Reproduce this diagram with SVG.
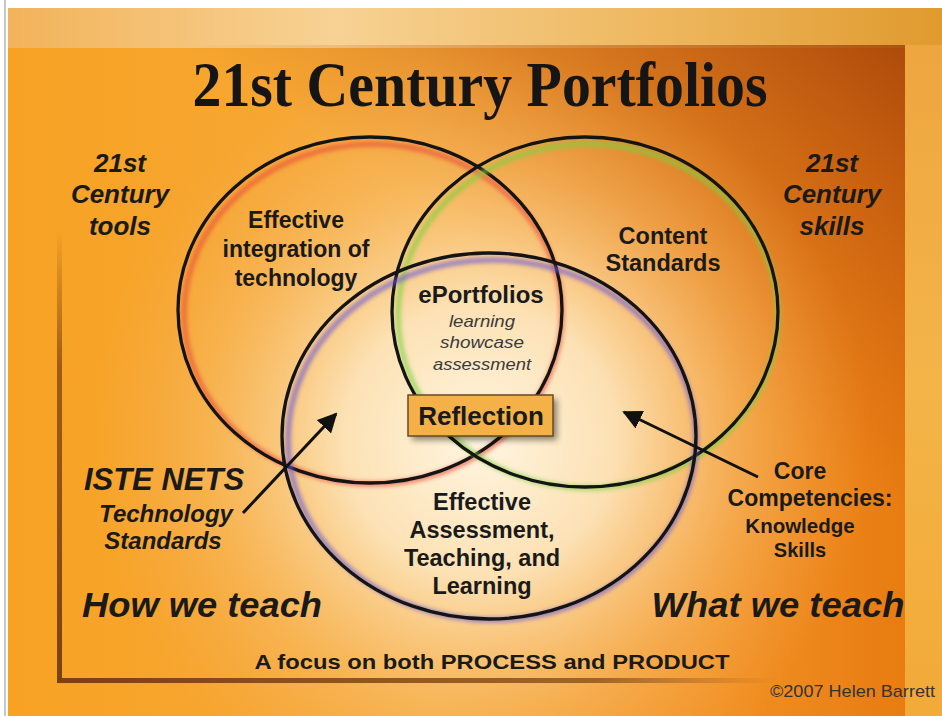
<svg xmlns="http://www.w3.org/2000/svg" width="942" height="716" viewBox="0 0 942 716">
<defs>
<linearGradient id="gMain" x1="0" y1="0" x2="1" y2="0">
<stop offset="0" stop-color="#f7a223"/>
<stop offset="0.45" stop-color="#f6a93a"/>
<stop offset="0.75" stop-color="#f29224"/>
<stop offset="1" stop-color="#e6780e"/>
</linearGradient>
<linearGradient id="gDark" x1="1" y1="0" x2="0.65" y2="0.4">
<stop offset="0" stop-color="#9a3a08" stop-opacity="0.75"/>
<stop offset="1" stop-color="#c05010" stop-opacity="0"/>
</linearGradient>
<radialGradient id="gGlow" cx="480" cy="440" r="390" gradientUnits="userSpaceOnUse">
<stop offset="0" stop-color="#fff6e2" stop-opacity="1"/>
<stop offset="0.35" stop-color="#fde8c2" stop-opacity="0.9"/>
<stop offset="0.7" stop-color="#f9c780" stop-opacity="0.4"/>
<stop offset="1" stop-color="#f7b060" stop-opacity="0"/>
</radialGradient>
<linearGradient id="gTop" x1="0" y1="0" x2="1" y2="0">
<stop offset="0" stop-color="#f2b35a"/>
<stop offset="0.35" stop-color="#f7d294"/>
<stop offset="0.7" stop-color="#eeb75e"/>
<stop offset="1" stop-color="#e09a2e"/>
</linearGradient>
<linearGradient id="gRight" x1="0" y1="0" x2="0" y2="1">
<stop offset="0" stop-color="#eea640"/>
<stop offset="0.5" stop-color="#f4b448"/>
<stop offset="1" stop-color="#f2aa38"/>
</linearGradient>
<linearGradient id="gFrameV" x1="0" y1="0" x2="0" y2="1">
<stop offset="0" stop-color="#8a4a10" stop-opacity="0"/>
<stop offset="0.3" stop-color="#8a4a10" stop-opacity="0.8"/>
<stop offset="1" stop-color="#7a4010" stop-opacity="1"/>
</linearGradient>
<linearGradient id="gFrameH" x1="0" y1="0" x2="1" y2="0">
<stop offset="0" stop-color="#7a4010" stop-opacity="1"/>
<stop offset="0.75" stop-color="#8a5020" stop-opacity="0.8"/>
<stop offset="1" stop-color="#8a5020" stop-opacity="0"/>
</linearGradient>
<filter id="blur" x="-10%" y="-10%" width="120%" height="120%"><feGaussianBlur stdDeviation="2"/></filter>
<filter id="shadow" x="-20%" y="-20%" width="140%" height="160%"><feGaussianBlur stdDeviation="3"/></filter>
<marker id="arrow" viewBox="0 0 10 10" refX="9" refY="5" markerWidth="6.5" markerHeight="6.5" markerUnits="strokeWidth" orient="auto">
<path d="M0,0 L10,5 L0,10 z" fill="#111"/>
</marker>
<style>
.t{font-family:"Liberation Sans",Arial,sans-serif;font-weight:bold;fill:#1a1a1a;text-anchor:middle}
.i{font-style:italic}
.n{font-weight:normal;fill:#3a3a3a}
.ring{fill:none;stroke:#141414;stroke-width:3.3}
.glow{fill:none;stroke-width:5;filter:url(#blur);opacity:0.7}
.conn{stroke:#111;stroke-width:3;fill:none}
</style>
</defs>

<!-- page background -->
<rect x="0" y="0" width="942" height="716" fill="#ffffff"/>
<rect x="4" y="0" width="2" height="716" fill="#c8c8c8"/>
<rect x="8" y="8" width="934" height="708" fill="url(#gMain)"/>
<rect x="8" y="8" width="934" height="40" fill="url(#gTop)"/>
<rect x="905" y="45" width="37" height="671" fill="url(#gRight)"/>
<rect x="8" y="45" width="897" height="671" fill="url(#gDark)"/>
<rect x="8" y="45" width="897" height="671" fill="url(#gGlow)"/>

<!-- frame lines -->
<rect x="57" y="230" width="5" height="452" fill="url(#gFrameV)"/>
<rect x="57" y="678" width="720" height="5" fill="url(#gFrameH)"/>

<!-- title -->
<text x="480" y="106" font-family="'Liberation Serif','Times New Roman',serif" font-weight="bold" font-size="64" fill="#151515" text-anchor="middle" textLength="575" lengthAdjust="spacingAndGlyphs">21st Century Portfolios</text>

<!-- circles -->
<g id="circle-tools">
<ellipse cx="373" cy="314" rx="189" ry="170" class="glow" stroke="#e8503a"/>
<ellipse cx="370" cy="310" rx="192" ry="173" class="ring"/>
</g>
<g id="circle-skills">
<ellipse cx="588" cy="316" rx="190" ry="172" class="glow" stroke="#7ed040"/>
<ellipse cx="585" cy="312" rx="193" ry="175" class="ring"/>
</g>
<g id="circle-teach">
<ellipse cx="492" cy="440" rx="204" ry="180" class="glow" stroke="#6a5ad8"/>
<ellipse cx="489" cy="436" rx="207" ry="183" class="ring"/>
</g>

<!-- labels -->
<g id="tools-label">
<text class="t i" font-size="26" x="120" y="172">21st</text>
<text class="t i" font-size="26" x="120" y="203">Century</text>
<text class="t i" font-size="26" x="120" y="235">tools</text>
</g>
<g id="skills-label">
<text class="t i" font-size="26" x="832" y="172">21st</text>
<text class="t i" font-size="26" x="832" y="203">Century</text>
<text class="t i" font-size="26" x="832" y="235">skills</text>
</g>
<g id="integration">
<text class="t" font-size="23" x="296" y="228">Effective</text>
<text class="t" font-size="23" x="296" y="257">integration of</text>
<text class="t" font-size="23" x="296" y="286">technology</text>
</g>
<g id="content">
<text class="t" font-size="23.5" x="663" y="244">Content</text>
<text class="t" font-size="23.5" x="663" y="271">Standards</text>
</g>
<g id="eportfolios">
<text class="t" font-size="24" x="481" y="303">ePortfolios</text>
<text class="t i n" font-size="17" x="482" y="327" textLength="66" lengthAdjust="spacingAndGlyphs">learning</text>
<text class="t i n" font-size="17" x="482" y="348" textLength="84" lengthAdjust="spacingAndGlyphs">showcase</text>
<text class="t i n" font-size="17" x="482" y="370" textLength="98" lengthAdjust="spacingAndGlyphs">assessment</text>
</g>
<g id="reflection">
<rect x="412" y="399" width="145" height="41" fill="#000" opacity="0.45" filter="url(#shadow)"/>
<rect x="408" y="395" width="145" height="41" fill="#f4b148" stroke="#6a4a20" stroke-width="1.5"/>
<text class="t" font-size="26" x="481" y="425">Reflection</text>
</g>
<g id="iste">
<text class="t i" font-size="31" x="164" y="490">ISTE NETS</text>
<text class="t i" font-size="24" x="166" y="522">Technology</text>
<text class="t i" font-size="24" x="163" y="549">Standards</text>
</g>
<g id="assessment">
<text class="t" font-size="23.5" x="482" y="510">Effective</text>
<text class="t" font-size="23.5" x="482" y="538">Assessment,</text>
<text class="t" font-size="23.5" x="482" y="566">Teaching, and</text>
<text class="t" font-size="23.5" x="482" y="594">Learning</text>
</g>
<g id="core">
<text class="t" font-size="23" x="800" y="479">Core</text>
<text class="t" font-size="23" x="810" y="506">Competencies:</text>
<text class="t" font-size="20.5" x="800" y="533">Knowledge</text>
<text class="t" font-size="20" x="800" y="557">Skills</text>
</g>
<g id="how">
<text class="t i" font-size="35" x="202" y="617" textLength="240" lengthAdjust="spacingAndGlyphs">How we teach</text>
</g>
<g id="what">
<text class="t i" font-size="35" x="778" y="617" textLength="253" lengthAdjust="spacingAndGlyphs">What we teach</text>
</g>
<g id="focus">
<text class="t" font-size="21" x="492" y="669" textLength="475" lengthAdjust="spacingAndGlyphs">A focus on both PROCESS and PRODUCT</text>
</g>
<g id="copyright">
<text x="935" y="697" font-family="'Liberation Sans',Arial,sans-serif" font-size="17" fill="#333" text-anchor="end" textLength="165" lengthAdjust="spacingAndGlyphs">©2007 Helen Barrett</text>
</g>

<!-- connectors -->
<g id="connectors">
<line x1="243" y1="513" x2="336" y2="414" class="conn" marker-end="url(#arrow)"/>
<line x1="758" y1="477" x2="624" y2="412" class="conn" marker-end="url(#arrow)"/>
</g>
</svg>
